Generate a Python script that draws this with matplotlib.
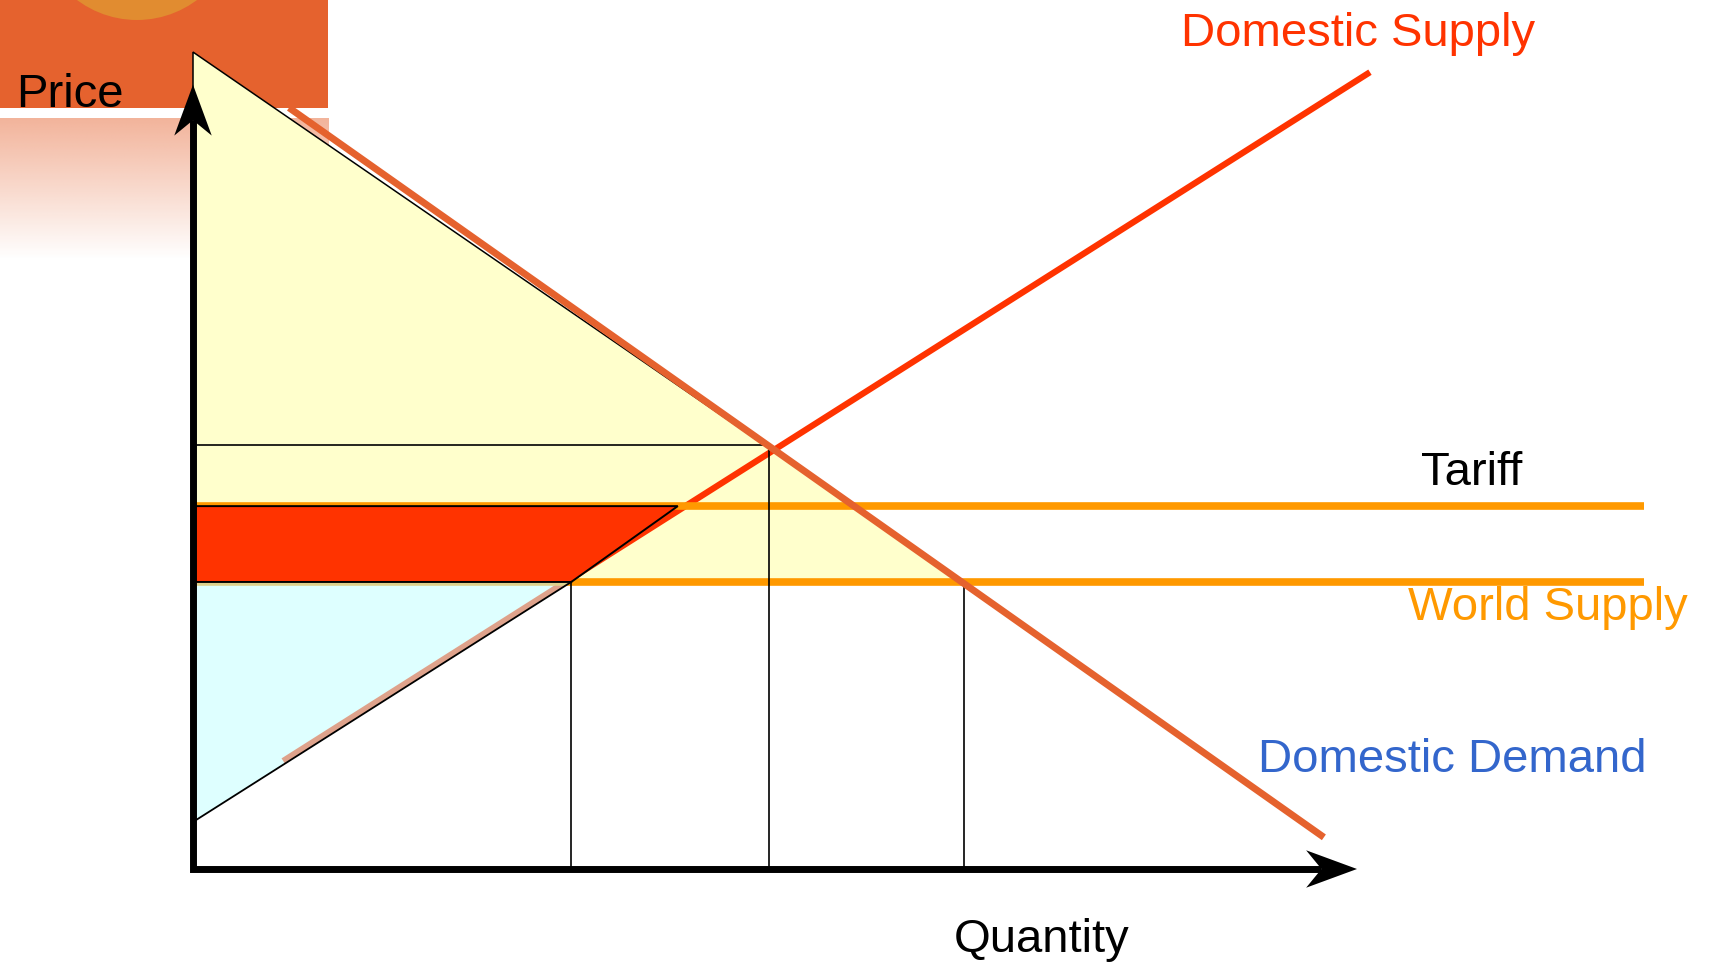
import matplotlib.pyplot as plt
import numpy as np
from matplotlib.patches import Polygon, Rectangle, Circle

plt.rcParams['font.family'] = ['Liberation Sans', 'DejaVu Sans']

# economic model (quantity, price)
demand_q = [10.0, 117.8]
demand_p = [79.3, 3.3]
supply_q = [9.4, 122.6]
supply_p = [11.25, 83.0]

world_price = 29.9
tariff_price = 37.8
price_line_end = 151.1

eq_q = 60.0
eq_p = 44.2
q_supply_world = 39.4
q_supply_tariff = 50.5
q_demand_world = 80.3
demand_top = 85.1      # consumer surplus apex on the price axis
supply_bottom = 4.9    # producer surplus apex on the price axis

axis_q_max = 121.25
axis_p_max = 81.7

labels = ["Domestic Supply", "Tariff", "World Supply", "Domestic Demand", "Price", "Quantity"]
label_q = [102.9, 127.9, 126.6, 110.9, -18.4, 79.2]
label_p = [85.75, 40.0, 25.9, 10.1, 79.4, -8.65]
label_colors = ["#FF3300", "black", "#FF9900", "#3366CC", "black", "black"]
label_sizes = [34, 34, 34, 34, 34, 34]

ORANGE_BOX = "#E5622E"
PX = 9.6  # pixels per unit, same on both axes

fig = plt.figure(figsize=(17.1, 9.66), dpi=100)
ax = fig.add_axes([0, 0, 1, 1])
xlim = (-193 / PX, (1710 - 193) / PX)
ylim = (-(966 - 869) / PX, 869 / PX)

# header decoration in the top-left corner
box_right = (328 - 193) / PX
box_bottom = (869 - 108) / PX
ax.add_patch(Rectangle((xlim[0], box_bottom), box_right - xlim[0], ylim[1] - box_bottom,
                       facecolor=ORANGE_BOX, edgecolor="none", zorder=1))
ax.add_patch(Circle(((137 - 193) / PX, (869 + 80) / PX), 100 / PX,
                    facecolor="#E18C30", edgecolor="none", zorder=1.1))
grad = np.zeros((100, 2, 4))
grad[..., 0] = 229 / 255
grad[..., 1] = 98 / 255
grad[..., 2] = 46 / 255
grad[..., 3] = np.linspace(0.48, 0.0, 100)[:, None]
ax.imshow(grad, extent=(xlim[0], box_right, (869 - 260) / PX, (869 - 118) / PX),
          aspect="auto", zorder=0.5, interpolation="bilinear")

# consumer surplus at world price
ax.add_patch(Polygon([(0, demand_top), (q_demand_world, world_price), (0, world_price)],
                     closed=True, facecolor="#FFFFCC", edgecolor="black", linewidth=1.1, zorder=2))

# guide lines
ax.plot([0, eq_q, eq_q], [eq_p, eq_p, 0], color="black", linewidth=1.2, zorder=4.5)
ax.plot([q_supply_world, q_supply_world], [world_price, 0], color="black", linewidth=1.2, zorder=4.5)
ax.plot([q_demand_world, q_demand_world], [world_price, 0], color="black", linewidth=1.2, zorder=4.5)

# supply and price lines
ax.plot(supply_q, supply_p, color="#FF3300", linewidth=4.5, solid_capstyle="butt", zorder=4)
ax.plot([0, price_line_end], [tariff_price, tariff_price], color="#FF9900", linewidth=5.5,
        solid_capstyle="butt", zorder=4)
ax.plot([0, price_line_end], [world_price, world_price], color="#FF9900", linewidth=5.5,
        solid_capstyle="butt", zorder=4)

# producer surplus at world price
ax.add_patch(Polygon([(0, supply_bottom), (q_supply_world, world_price), (0, world_price)],
                     closed=True, facecolor="#C4FFFF", alpha=0.55, edgecolor="none", zorder=5))

# tariff revenue / producer gain
ax.add_patch(Polygon([(0, tariff_price), (q_supply_tariff, tariff_price),
                      (q_supply_world, world_price), (0, world_price)],
                     closed=True, facecolor="#FF3300", edgecolor="black", linewidth=1.4, zorder=6))
ax.plot([0, q_supply_world], [supply_bottom, world_price], color="black", linewidth=1.3, zorder=6)

# demand
ax.plot(demand_q, demand_p, color=ORANGE_BOX, linewidth=5, solid_capstyle="butt", zorder=7)

# axes with stealth arrowheads
head_len, head_w, notch = 5.3, 1.95, 1.6
ax.plot([0, 0, axis_q_max - head_len + notch], [axis_p_max - head_len + notch, 0, 0],
        color="black", linewidth=5, solid_joinstyle="miter", solid_capstyle="butt", zorder=8)
ax.add_patch(Polygon([(0, axis_p_max), (head_w, axis_p_max - head_len),
                      (0, axis_p_max - head_len + notch), (-head_w, axis_p_max - head_len)],
                     closed=True, facecolor="black", edgecolor="none", zorder=8))
ax.add_patch(Polygon([(axis_q_max, 0), (axis_q_max - head_len, head_w),
                      (axis_q_max - head_len + notch, 0), (axis_q_max - head_len, -head_w)],
                     closed=True, facecolor="black", edgecolor="none", zorder=8))

for text, q, p, c, s in zip(labels, label_q, label_p, label_colors, label_sizes):
    ax.text(q, p, text, color=c, fontsize=s, ha="left", va="baseline", zorder=9)

ax.set_xlim(*xlim)
ax.set_ylim(*ylim)
ax.axis("off")

fig.savefig("out.png", dpi=100)
